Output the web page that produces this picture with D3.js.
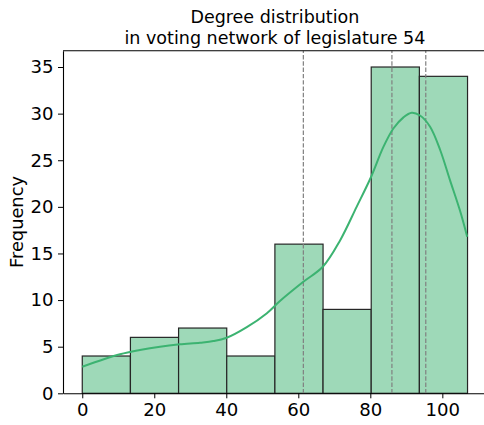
<!DOCTYPE html>
<html>
<head>
<meta charset="utf-8">
<script src="https://cdn.jsdelivr.net/npm/d3@7"></script>
<style>
  body { margin: 0; background: #fff; }
  svg { display: block; font-family: "DejaVu Sans", sans-serif; }
</style>
</head>
<body>
<svg id="chart" width="484" height="425"></svg>
<script>
// Histogram bins (degree) and counts
const binEdges = [0, 13.375, 26.75, 40.125, 53.5, 66.875, 80.25, 93.625, 107];
const counts = [4, 6, 7, 4, 16, 9, 35, 34];

// Dashed reference lines
const refLines = [61.4, 86.0, 95.4];

// KDE curve
const kdeX = [0, 10.5, 16, 21.6, 27.1, 32.7, 36.4, 40.1, 45.7, 51.2, 54.9, 61.4, 66.8, 71.6, 76.2, 80.2, 83.6, 86.4, 89.2, 91.5, 93.8, 96.6, 99.4, 102.1, 104.9, 106.9];
const kdeY = [2.85, 4.18, 4.64, 5.0, 5.25, 5.43, 5.6, 5.96, 7.1, 8.57, 9.9, 11.96, 13.57, 16.4, 20.0, 23.2, 26.4, 28.4, 29.6, 30.1, 29.8, 28.6, 26.1, 22.9, 19.6, 16.8];

const xTicks = [0, 20, 40, 60, 80, 100];
const yTicks = [0, 5, 10, 15, 20, 25, 30, 35];

const titleLines = ["Degree distribution", "in voting network of legislature 54"];
const yLabel = "Frequency";

const svg = d3.select("#chart");

const x = d3.scaleLinear().domain([-5.35, 112.35]).range([63, 486.8]);
const y = d3.scaleLinear().domain([0, 36.75]).range([393.3, 50.7]);

// bars
const bars = counts.map((c, i) => ({ x0: binEdges[i], x1: binEdges[i + 1], count: c }));
svg.append("g")
  .selectAll("rect")
  .data(bars)
  .join("rect")
  .attr("x", d => x(d.x0))
  .attr("y", d => y(d.count))
  .attr("width", d => x(d.x1) - x(d.x0))
  .attr("height", d => y(0) - y(d.count))
  .attr("fill", "#9ed9b8")
  .attr("stroke", "#262626")
  .attr("stroke-width", 1.2);

// dashed lines
svg.append("g")
  .selectAll("line")
  .data(refLines)
  .join("line")
  .attr("x1", d => x(d))
  .attr("x2", d => x(d))
  .attr("y1", y.range()[0])
  .attr("y2", y.range()[1])
  .attr("stroke", "#808080")
  .attr("stroke-width", 1.2)
  .attr("stroke-dasharray", "4.4,1.9");

// kde line
const line = d3.line()
  .x(d => x(d[0]))
  .y(d => y(d[1]))
  .curve(d3.curveCatmullRom);
svg.append("path")
  .datum(kdeX.map((v, i) => [v, kdeY[i]]))
  .attr("d", line)
  .attr("fill", "none")
  .attr("stroke", "#3cb371")
  .attr("stroke-width", 2);

// axes
const xAxis = svg.append("g")
  .attr("transform", `translate(0,${y.range()[0]})`)
  .call(d3.axisBottom(x).tickValues(xTicks).tickSize(5).tickPadding(4.5).tickSizeOuter(0));
const yAxis = svg.append("g")
  .attr("transform", `translate(${x.range()[0]},0)`)
  .call(d3.axisLeft(y).tickValues(yTicks).tickSize(5).tickPadding(4.5).tickSizeOuter(0));

[xAxis, yAxis].forEach(a => {
  a.selectAll("text").attr("font-size", 18.1).attr("fill", "#000").attr("font-family", "DejaVu Sans");
  a.selectAll("line").attr("stroke", "#000").attr("stroke-width", 1);
  a.select(".domain").attr("stroke", "#000").attr("stroke-width", 1.1);
});

// top and right spines
svg.append("path")
  .attr("d", `M${x.range()[0]},${y.range()[1]}H${x.range()[1]}V${y.range()[0]}`)
  .attr("fill", "none")
  .attr("stroke", "#000")
  .attr("stroke-width", 1.1);

// title
svg.append("g")
  .selectAll("text")
  .data(titleLines)
  .join("text")
  .attr("x", (x.range()[0] + x.range()[1]) / 2)
  .attr("y", (d, i) => 23.3 + i * 20.2)
  .attr("text-anchor", "middle")
  .attr("font-size", 17.5)
  .text(d => d);

// y label
svg.append("text")
  .attr("transform", `translate(22.5,${(y.range()[0] + y.range()[1]) / 2}) rotate(-90)`)
  .attr("text-anchor", "middle")
  .attr("font-size", 17.8)
  .text(yLabel);
</script>
</body>
</html>
